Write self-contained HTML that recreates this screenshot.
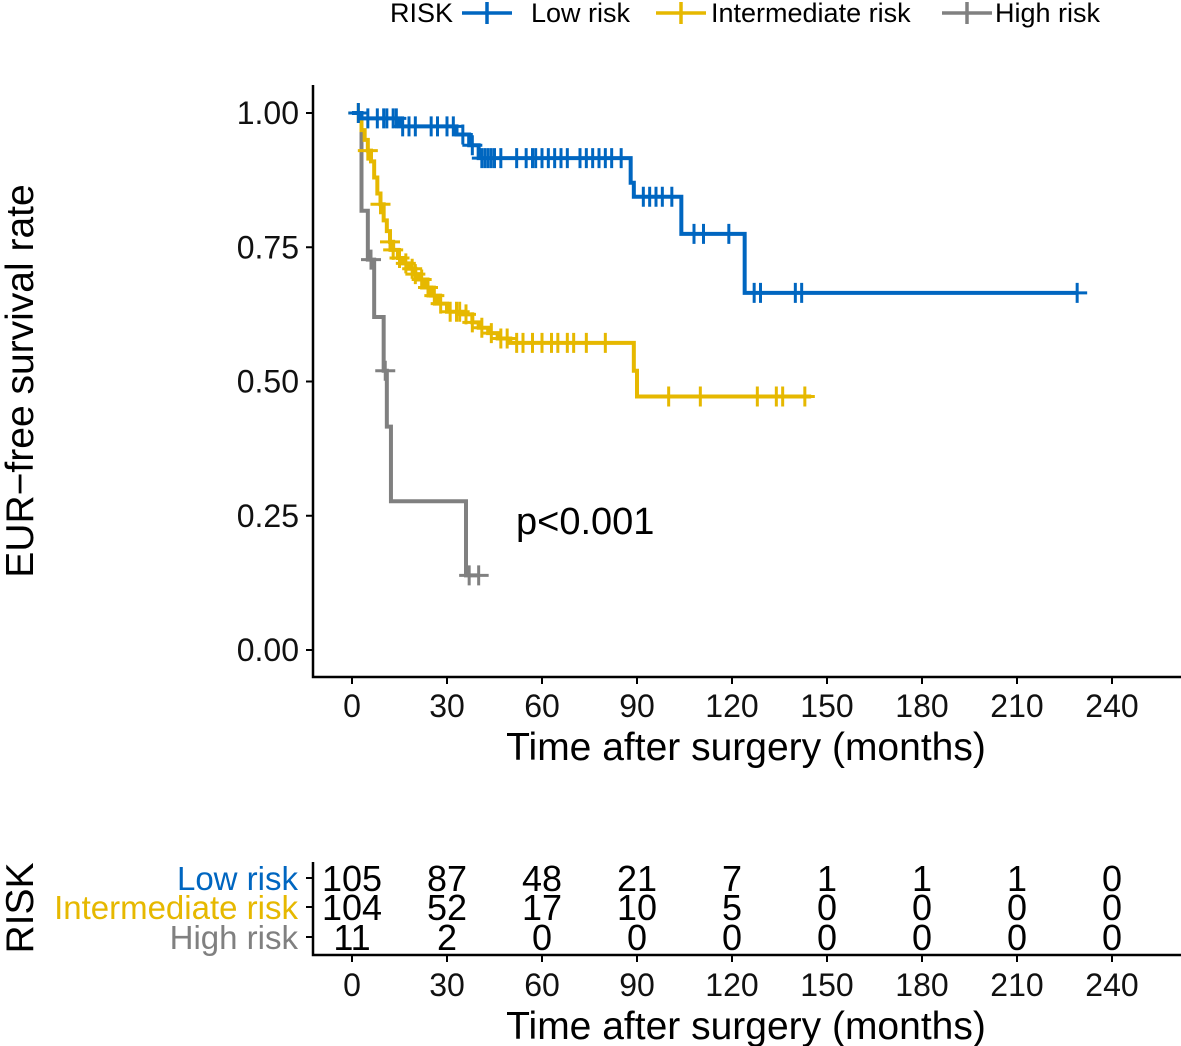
<!DOCTYPE html>
<html><head><meta charset="utf-8"><style>
body{margin:0;background:#fff}
svg{display:block;font-family:"Liberation Sans",Arial,sans-serif}
</style></head><body>
<svg id="c" width="1181" height="1046" viewBox="0 0 1181 1046"></svg>
<script>
const xTicks=[0,30,60,90,120,150,180,210,240];
const yTicks=[0,0.25,0.5,0.75,1.0];
const yTickLabels=["0.00","0.25","0.50","0.75","1.00"];
const seriesNames=["Low risk","Intermediate risk","High risk"];
const seriesColors=["#0066c0","#e6b800","#808080"];
const lowT=[0,3,15,33,37,40,88,89,104,124,229];
const lowS=[1,0.99,0.975,0.96,0.94,0.916,0.87,0.844,0.775,0.665,0.665];
const lowCens=[2,5,8,10,11,13,14,16,18,20,25,27,30,32,35,38,41,42,43,44,45,47,52,55,57,58,60,62,64,66,68,72,74,76,78,80,82,85,92,94,96,98,101,108,111,119,127,129,140,142,229];
const midT=[0,3,4,5,6,7,8,9,10,11,12,13,14.5,16,18,20,21,23,25,27,30,35,38,40,43,46,50,89,90,145];
const midS=[1,0.968,0.95,0.93,0.91,0.88,0.85,0.83,0.80,0.78,0.76,0.745,0.73,0.72,0.71,0.70,0.69,0.675,0.66,0.645,0.63,0.625,0.61,0.60,0.59,0.58,0.572,0.52,0.472,0.472];
const midCens=[2,5,9,12,13,15,17,19,20,22,24,26,28,31,33,34,36,38,41,44,47,49,52,54,57,60,63,65,68,70,74,80,100,110,128,134,136,143];
const highT=[0,3,5,7,10,11,12.3,36,40];
const highS=[1,0.818,0.727,0.62,0.52,0.416,0.277,0.139,0.139];
const highCens=[6,10.5,37,40];
const riskLow=[105,87,48,21,7,1,1,1,0];
const riskMid=[104,52,17,10,5,0,0,0,0];
const riskHigh=[11,2,0,0,0,0,0,0,0];

const svg=document.getElementById('c');const NS="http://www.w3.org/2000/svg";
const X=t=>352+t*(1112-352)/240;
const Y=s=>650-s*(650-113);
function mk(tag,at,txt){const e=document.createElementNS(NS,tag);for(const k in at)e.setAttribute(k,at[k]);if(txt!==undefined)e.textContent=txt;svg.appendChild(e);return e;}
// legend
let lg=mk('text',{x:390,y:22,'font-size':27,fill:'#000'},'RISK');


const legX=[462,656,942];
const legTX=[531,711,995];
seriesNames.forEach((n,i)=>{
 const l=mk('path',{d:`M${legX[i]} 13h50M${legX[i]+25} 2v22`,stroke:seriesColors[i],'stroke-width':3.5,fill:'none'});
 
 
 const t=mk('text',{x:legTX[i],y:22,'font-size':27,fill:'#000'},n);
 
 
});
// axes
let ax=mk('path',{d:'M313 85V677H1181',stroke:'#000','stroke-width':2.5,fill:'none'});


yTicks.forEach((v,i)=>{
 mk('path',{d:`M306 ${Y(v)}H313`,stroke:'#000','stroke-width':2});
 const t=mk('text',{x:299,y:Y(v)+11,'font-size':32,'text-anchor':'end',fill:'#111'},yTickLabels[i]);
 
 
});
xTicks.forEach(v=>{
 mk('path',{d:`M${X(v)} 677v7`,stroke:'#000','stroke-width':2});
 const t=mk('text',{x:X(v),y:717,'font-size':32,'text-anchor':'middle',fill:'#111'},v);
 
 
});
let xt=mk('text',{x:746,y:760,'font-size':39,'text-anchor':'middle',fill:'#000'},'Time after surgery (months)');


let yt=mk('text',{x:0,y:0,'font-size':39,'text-anchor':'middle',fill:'#000',transform:'translate(33,381) rotate(-90)'},'EUR\u2212free survival rate');


// curves
const all=[[lowT,lowS,lowCens],[midT,midS,midCens],[highT,highS,highCens]];
[2,1,0].forEach(i=>{
 const [T,S,C]=all[i];
 let d=`M${X(T[0])} ${Y(S[0])}`;
 for(let k=1;k<T.length;k++){d+=`H${X(T[k])}V${Y(S[k])}`;}
 const p=mk('path',{d,stroke:seriesColors[i],'stroke-width':4,fill:'none'});
 
 
 let cd='';
 C.forEach(c=>{let s=S[0];for(let k=0;k<T.length;k++){if(T[k]<=c)s=S[k];}cd+=`M${X(c)-10} ${Y(s)}h20M${X(c)} ${Y(s)-10}v20`;});
 const cp=mk('path',{d:cd,stroke:seriesColors[i],'stroke-width':3,fill:'none'});
 
 
});
let pv=mk('text',{x:516,y:534,'font-size':38,fill:'#000'},'p<0.001');


// risk table
let ta=mk('path',{d:'M313 862V955H1181',stroke:'#000','stroke-width':2.5,fill:'none'});


const rowY=[878,907,937];
const rows=[riskLow,riskMid,riskHigh];
rows.forEach((r,i)=>{
 mk('path',{d:`M306 ${rowY[i]}H313`,stroke:'#000','stroke-width':2});
 const lab=mk('text',{x:298,y:rowY[i]+12,'font-size':33,'text-anchor':'end',fill:seriesColors[i]},seriesNames[i]);
 
 
 r.forEach((v,j)=>{
  const t=mk('text',{x:X(xTicks[j]),y:rowY[i]+13,'font-size':36,'text-anchor':'middle',fill:'#000'},v);
  
  
 });
});
xTicks.forEach(v=>{
 mk('path',{d:`M${X(v)} 955v7`,stroke:'#000','stroke-width':2});
 const t=mk('text',{x:X(v),y:996,'font-size':32,'text-anchor':'middle',fill:'#111'},v);
 
 
});
let xt2=mk('text',{x:746,y:1039,'font-size':39,'text-anchor':'middle',fill:'#000'},'Time after surgery (months)');


let rt=mk('text',{x:0,y:0,'font-size':39,'text-anchor':'middle',fill:'#000',transform:'translate(33,908) rotate(-90)'},'RISK');


</script>
</body></html>
